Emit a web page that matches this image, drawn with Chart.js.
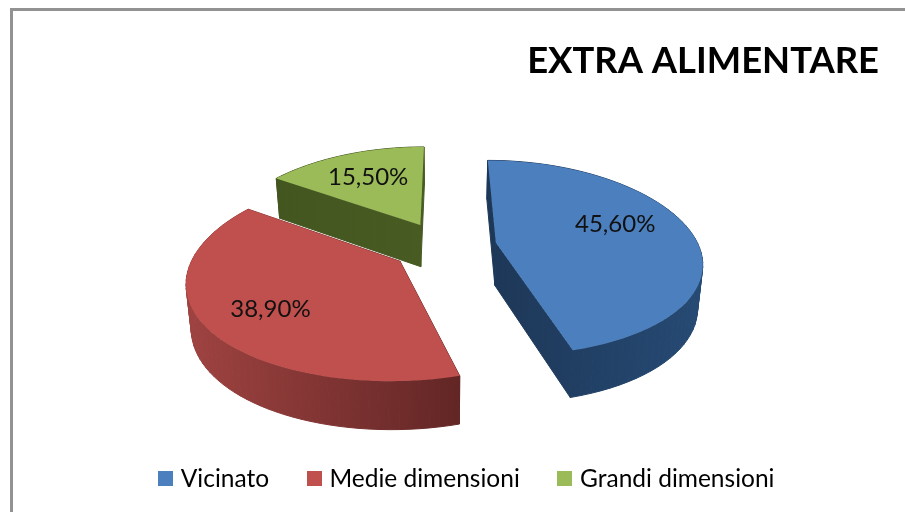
<!DOCTYPE html>
<html>
<head>
<meta charset="utf-8">
<title>Extra alimentare</title>
<script src="https://cdn.jsdelivr.net/npm/chart.js@4/dist/chart.umd.min.js"></script>
<style>
  html, body { margin: 0; padding: 0; background: #fff; overflow: hidden; }
  #frame { position: absolute; left: 10px; top: 8px; width: 1000px; height: 1000px; border: 3px solid #929292; }
  #chartCanali { position: absolute; left: 0; top: 0; }
</style>
</head>
<body>
<div id="frame"></div>
<canvas id="chartCanali" width="905" height="512"></canvas>
<script>
const categorie = ['Vicinato', 'Medie dimensioni', 'Grandi dimensioni'];
const quote = [45.6, 38.9, 15.5];

const coloriFaccia = ['#4c7fbd', '#c0504d', '#9bbb59'];
const coloriLato = [
    ['#1d3757', '#264a74'],
    ['#9f4341', '#622625'],
    ['#435620', '#475b22']
];

// vista prospettica: orizzonte, centro torta e altezza dello spessore
const vista = { xFuga: 444, yOrizzonte: -282, c: 0.001893, s: 0.000345, q: 0.0000094, k: 0.384, spessoreA: 20, spessoreB: 0.043, spessoreX: 0.98 };
const esplosione = 0.26;
const ritoccoEtichetta = [-10, -3, 0];
const raggioEtichetta = [0.655, 0.71, 0.66];

const proietta = (X, Y, basso) => {
    const d = 1 / (vista.c + vista.s * Y + vista.q * Y * Y);
    return {
        x: vista.xFuga + X * vista.k * d * (basso ? vista.spessoreX : 1),
        y: vista.yOrizzonte + d + (basso ? vista.spessoreA + vista.spessoreB * d : 0)
    };
};

const contorno = (arc) => {
    const da = arc.startAngle + Math.PI / 2;
    const a = arc.endAngle + Math.PI / 2;
    const medio = (da + a) / 2;
    const ox = Math.sin(medio) * esplosione;
    const oy = Math.cos(medio) * esplosione;
    const punti = [[ox, oy]];
    const passi = 60;
    for (let i = 0; i <= passi; i++) {
        const t = da + (a - da) * i / passi;
        punti.push([ox + Math.sin(t), oy + Math.cos(t)]);
    }
    return { punti, ox, oy, medio };
};

const torta3d = {
    id: 'torta3d',
    beforeDatasetDraw(chart, args) {
        const { ctx } = chart;
        const archi = chart.getDatasetMeta(args.index).data;

        // dal fondo verso l'osservatore: verde, rosso, blu
        [2, 1, 0].forEach(i => {
            const { punti } = contorno(archi[i]);
            const alti = punti.map(p => proietta(p[0], p[1], false));
            const bassi = punti.map(p => proietta(p[0], p[1], true));

            const xs = alti.map(p => p.x);
            const gradLato = ctx.createLinearGradient(Math.min(...xs), 0, Math.max(...xs), 0);
            gradLato.addColorStop(0, coloriLato[i][0]);
            gradLato.addColorStop(1, coloriLato[i][1]);

            ctx.fillStyle = gradLato;
            ctx.strokeStyle = gradLato;
            ctx.lineWidth = 1;
            const facce = [];
            for (let j = 0; j < punti.length; j++) {
                const n = (j + 1) % punti.length;
                facce.push({ j, n, prof: punti[j][1] + punti[n][1] });
            }
            facce.sort((a, b) => b.prof - a.prof).forEach(({ j, n }) => {
                ctx.beginPath();
                ctx.moveTo(alti[j].x, alti[j].y);
                ctx.lineTo(alti[n].x, alti[n].y);
                ctx.lineTo(bassi[n].x, bassi[n].y);
                ctx.lineTo(bassi[j].x, bassi[j].y);
                ctx.closePath();
                ctx.fill();
                ctx.stroke();
            });

            ctx.beginPath();
            alti.forEach((p, j) => j ? ctx.lineTo(p.x, p.y) : ctx.moveTo(p.x, p.y));
            ctx.closePath();
            ctx.fillStyle = coloriFaccia[i];
            ctx.fill();
        });

        // etichette percentuali sulle facce
        ctx.fillStyle = '#111';
        ctx.font = '24px Lato';
        ctx.textAlign = 'center';
        ctx.textBaseline = 'middle';
        archi.forEach((arc, i) => {
            const { ox, oy, medio } = contorno(arc);
            const t = medio + ritoccoEtichetta[i] * Math.PI / 180;
            const r = raggioEtichetta[i];
            const p = proietta(ox + Math.sin(t) * r, oy + Math.cos(t) * r, false);
            const testo = quote[i].toFixed(2).replace('.', ',') + '%';
            ctx.fillText(testo, p.x, p.y);
        });
        return false;
    }
};

// quadratino della legenda, piu' largo dello spazio riservato dalla libreria
const quadratino = (colore) => {
    const c = document.createElement('canvas');
    c.width = 15;
    c.height = 15;
    const g = c.getContext('2d');
    g.fillStyle = colore;
    g.fillRect(0, 0, 15, 15);
    return c;
};

const ctx = document.getElementById('chartCanali').getContext('2d');

const chartCanali = new Chart(ctx, {
    type: 'pie',
    data: {
        labels: categorie,
        datasets: [{
            data: quote,
            backgroundColor: coloriFaccia,
            borderWidth: 0
        }]
    },
    options: {
        responsive: false,
        animation: false,
        layout: { padding: { left: 58, right: 26, bottom: 11 } },
        plugins: {
            tooltip: { enabled: false },
            title: {
                display: true,
                text: 'EXTRA ALIMENTARE',
                align: 'end',
                color: '#000',
                font: { family: 'Lato', size: 36.4, weight: 'bold' },
                padding: { top: 39, bottom: 10 }
            },
            legend: {
                position: 'bottom',
                labels: {
                    color: '#111',
                    font: { family: 'Lato', size: 24.5 },
                    usePointStyle: true,
                    pointStyleWidth: 6,
                    boxHeight: 15,
                    padding: 42,
                    generateLabels: () => categorie.map((testo, i) => ({
                        text: testo,
                        fillStyle: coloriFaccia[i],
                        strokeStyle: coloriFaccia[i],
                        lineWidth: 0,
                        pointStyle: quadratino(coloriFaccia[i]),
                        hidden: false,
                        index: i
                    }))
                }
            }
        }
    },
    plugins: [torta3d]
});
</script>
</body>
</html>
